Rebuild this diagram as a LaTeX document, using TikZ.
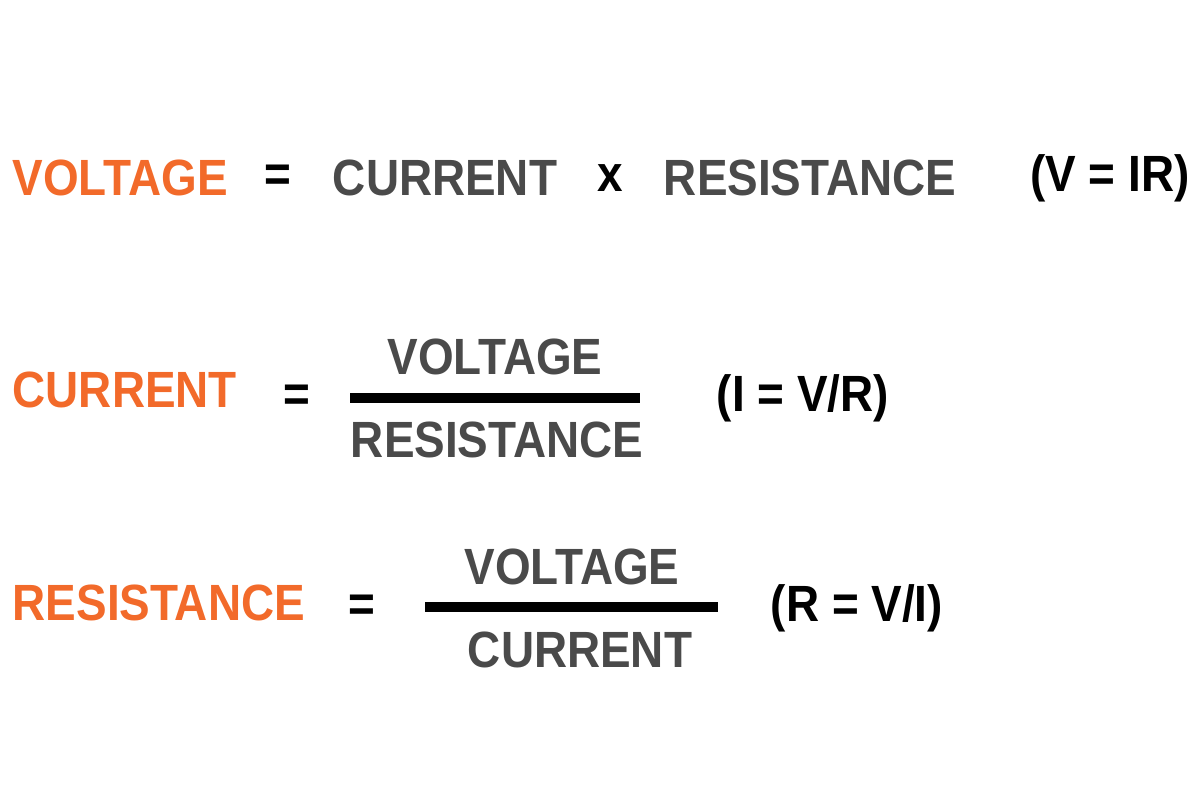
\documentclass[tikz,border=0pt]{standalone}
\usepackage{fontspec}
\setmainfont{Liberation Sans}[FakeStretch=0.9]
\definecolor{ohmorange}{HTML}{F26A2A}
\definecolor{ohmgrey}{HTML}{4A4A4A}
\begin{document}
\begin{tikzpicture}
	[term/.style={font=\fontsize{14.5}{16}\selectfont\bfseries,inner sep=0pt},
	 lead/.style={term,text=ohmorange,anchor=west},
	 word/.style={term,text=ohmgrey},
	 sym/.style={term,text=black},
	 bar/.style={line width=2.6pt,black}]
	\useasboundingbox (0,0) rectangle (12,8);
	% V = IR
	\node[lead,name=v1]at(0.12,6.22){VOLTAGE};
	\node[sym,name=eq1]at(2.78,6.22){=};
	\node[word,name=i1]at(4.45,6.22){CURRENT};
	\node[sym,name=x1]at(6.10,6.22){x};
	\node[word,name=r1]at(8.10,6.22){RESISTANCE};
	\node[sym,name=f1]at(11.10,6.22){(V = IR)};
	% I = V/R
	\node[lead,name=i2]at(0.12,4.10){CURRENT};
	\node[sym,name=eq2]at(2.97,4.02){=};
	\coordinate (a2) at (3.50,4.02);
	\coordinate (b2) at (6.40,4.02);
	\draw[bar] (a2) -- (b2);
	\node[word,name=v2]at(4.95,4.43){VOLTAGE};
	\node[word,name=r2]at(4.97,3.60){RESISTANCE};
	\node[sym,name=f2]at(8.03,4.02){(I = V/R)};
	% R = V/I
	\node[lead,name=r3]at(0.12,1.97){RESISTANCE};
	\node[sym,name=eq3]at(3.62,1.92){=};
	\coordinate (a3) at (4.25,1.93);
	\coordinate (b3) at (7.18,1.93);
	\draw[bar] (a3) -- (b3);
	\node[word,name=v3]at(5.72,2.33){VOLTAGE};
	\node[word,name=i3]at(5.80,1.50){CURRENT};
	\node[sym,name=f3]at(8.57,1.92){(R = V/I)};
\end{tikzpicture}
\end{document}
